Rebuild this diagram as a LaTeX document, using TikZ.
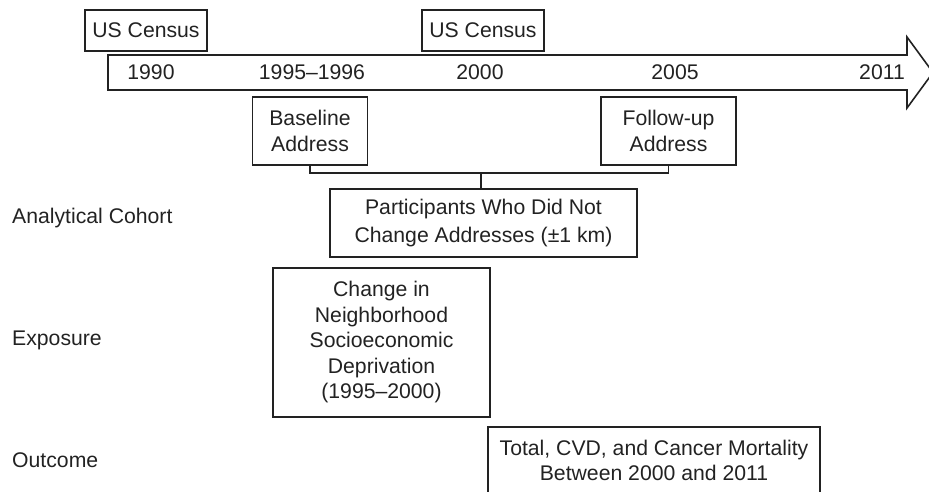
\documentclass[tikz,border=0pt]{standalone}
\usepackage{fontspec}
\setmainfont{Liberation Sans}
\definecolor{ink}{HTML}{222222}
\begin{document}
\begin{tikzpicture}[x=1pt,y=-1pt,
  line/.style={draw=ink,line width=1.6pt},
  txt/.style={text=ink,font=\fontsize{21.2}{25.5}\selectfont,inner sep=0pt},
  box/.style={txt,line,align=center},
  lbl/.style={txt,anchor=west}]
\useasboundingbox (0,0) rectangle (929,491);
\clip (0,0) rectangle (929,491);
% timeline arrow
\draw[line,line join=miter] (108,55) -- (907,55) -- (907,37) -- (933,72.5) -- (907,108) -- (907,90) -- (108,90) -- cycle;
\node[txt] (y1990) at (151,72.5) {1990};
\node[txt] (y1995) at (312,72.5) {1995--1996};
\node[txt] (y2000) at (480,72.5) {2000};
\node[txt] (y2005) at (675,72.5) {2005};
\node[txt] (y2011) at (882,72.5) {2011};
% census boxes
\node[box,minimum width=122,minimum height=41] (census1) at (146,30.5) {US Census};
\node[box,minimum width=122,minimum height=41] (census2) at (483,30.5) {US Census};
% address boxes
\node[box,minimum width=115,minimum height=68] (baseline) at (310,131) {Baseline\\Address};
\node[box,minimum width=135,minimum height=68] (followup) at (668.5,131) {Follow-up\\Address};
% cohort
\node[box,minimum width=307,minimum height=68,font=\fontsize{21.2}{28}\selectfont] (cohort) at (483.5,223) {Participants Who Did Not\\Change Addresses (\textpm1 km)};
% exposure
\node[box,minimum width=217,minimum height=149] (change) at (381.5,342.5) {Change in\\Neighborhood\\Socioeconomic\\Deprivation\\(1995--2000)};
% outcome
\node[box,minimum width=332,minimum height=67] (outcome) at (654,460.5) {Total, CVD, and Cancer Mortality\\Between 2000 and 2011};
% bracket
\coordinate (brk) at (481,173);
\draw[line] (baseline.south) |- (brk) -| (followup.south);
\draw[line] (brk) -- (brk |- cohort.north);
% row labels
\node[lbl] (lcohort) at (12,218) {Analytical Cohort};
\node[lbl] (lexp) at (12,340) {Exposure};
\node[lbl] (lout) at (12,460) {Outcome};
\end{tikzpicture}
\end{document}
